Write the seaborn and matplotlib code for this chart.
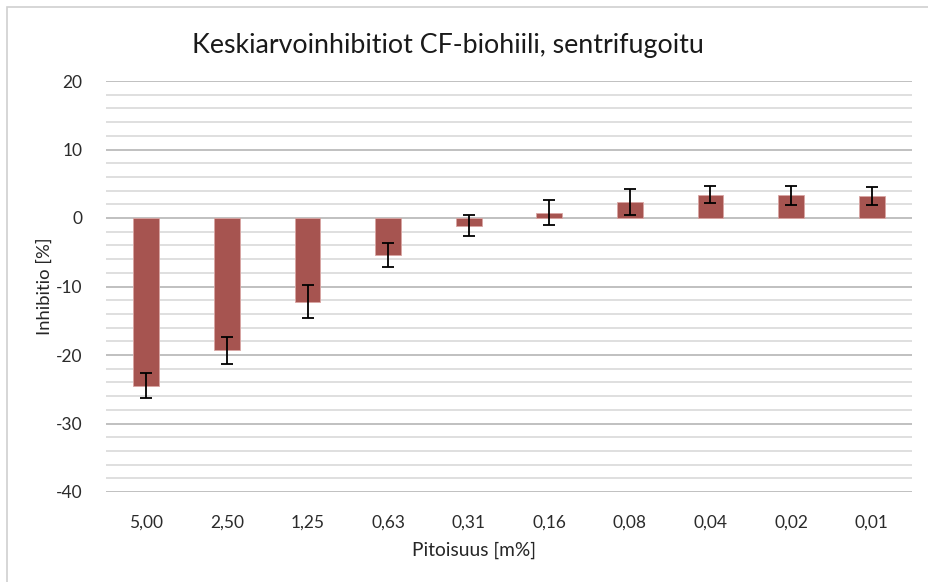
import matplotlib
matplotlib.use("Agg")
import matplotlib.pyplot as plt
from matplotlib.patches import Rectangle
from matplotlib.ticker import MultipleLocator
import seaborn as sns
import pandas as pd

# Concentration categories (m%) and mean inhibition with standard deviation
concentrations = ["5,00", "2,50", "1,25", "0,63", "0,31", "0,16", "0,08", "0,04", "0,02", "0,01"]
inhibition = [-24.5, -19.3, -12.2, -5.4, -1.1, 0.8, 2.3, 3.4, 3.3, 3.2]
std_dev = [1.85, 2.0, 2.45, 1.7, 1.5, 1.85, 1.9, 1.2, 1.35, 1.3]

title_text = "Keskiarvoinhibitiot CF-biohiili, sentrifugoitu"
x_label = "Pitoisuus [m%]"
y_label = "Inhibitio [%]"

sns.set_theme(style="white")
plt.rcParams["font.family"] = ["Lato", "DejaVu Sans"]
plt.rcParams["axes.unicode_minus"] = False

df = pd.DataFrame({"conc": concentrations, "inh": inhibition, "sd": std_dev})

fig = plt.figure(figsize=(9.29, 5.82), dpi=100)
ax = fig.add_axes([106 / 929, 1 - 492 / 582, (912 - 106) / 929, (492 - 81) / 582])

sns.barplot(data=df, x="conc", y="inh", order=concentrations, color="#A65450",
            saturation=1, width=0.32, errorbar=None, ax=ax,
            edgecolor="#D9A5A3", linewidth=0.6, zorder=3)
ax.errorbar(range(len(concentrations)), df["inh"], yerr=df["sd"], fmt="none",
            ecolor="black", elinewidth=1.3, capsize=4.6, capthick=1.3, zorder=4)

ax.set_ylim(-40, 20)
ax.set_xlim(-0.5, len(concentrations) - 0.5)
ax.yaxis.set_major_locator(MultipleLocator(10))
ax.yaxis.set_minor_locator(MultipleLocator(2))
ax.grid(which="major", axis="y", color="#B5B5B5", linewidth=1.2, zorder=0)
ax.grid(which="minor", axis="y", color="#D9D9D9", linewidth=1.2, zorder=0)
ax.set_axisbelow(True)
for s in ax.spines.values():
    s.set_visible(False)
ax.tick_params(axis="both", which="both", length=0, labelsize=12.5, colors="#2b2b2b")
ax.tick_params(axis="x", pad=16)
ax.tick_params(axis="y", pad=17)

ax.set_xlabel(x_label, fontsize=13.8, color="#262626", va="center")
ax.set_ylabel(y_label, fontsize=13.3, color="#262626", va="center")
ax.xaxis.set_label_coords((474 - 106) / 806, (492 - 550) / 411)
ax.yaxis.set_label_coords((45 - 106) / 806, 0.5)

fig.text(447.5 / 929, 1 - 46 / 582, title_text, fontsize=19.3, color="#1a1a1a",
         ha="center", va="center")

# Light chart-area frame
fig.patches.append(Rectangle((7 / 929, -0.1), 1.2, 1.1 - 7 / 582, transform=fig.transFigure,
                             fill=False, edgecolor="#D0D0D0", linewidth=1.2))

fig.savefig("out.png", dpi=100, facecolor="white")
